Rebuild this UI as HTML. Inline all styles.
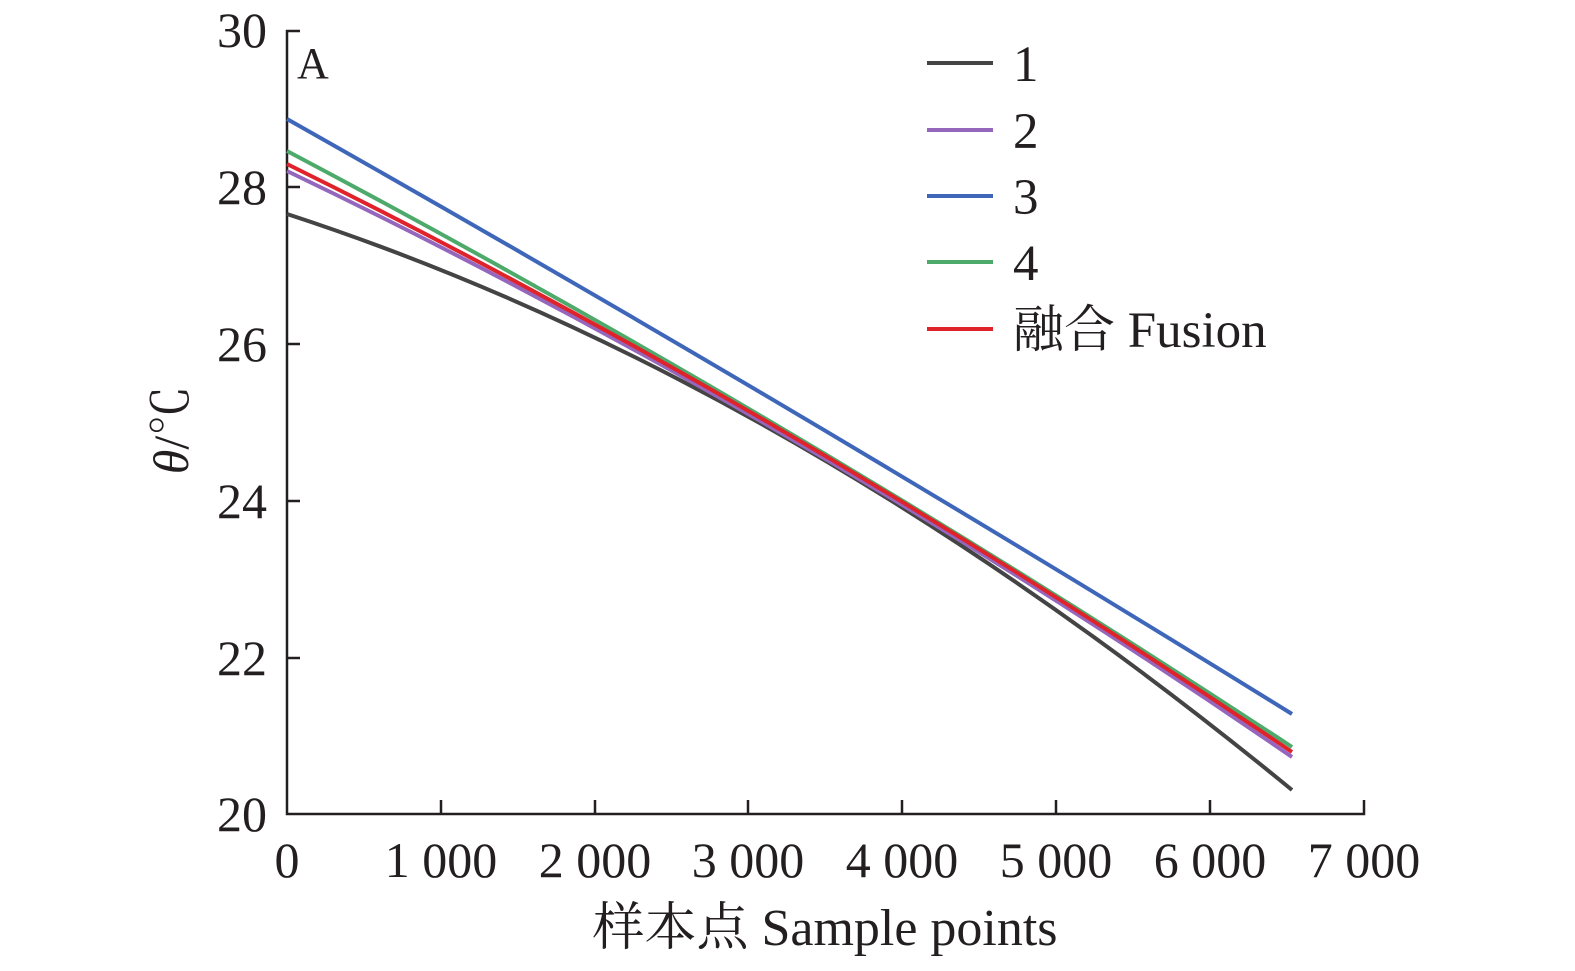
<!DOCTYPE html>
<html><head><meta charset="utf-8"><style>
body{margin:0;background:#fff;}
svg text{font-family:"Liberation Serif","Noto Serif CJK SC",serif;fill:#231f20;}
</style></head><body>
<svg width="1575" height="966" xmlns="http://www.w3.org/2000/svg">
<g stroke="#231f20" stroke-width="2.5" fill="none">
<path d="M300,31 H287 V814 H1364 V800"/>
<path d="M287,187 H300 M287,344 H300 M287,501 H300 M287,658 H300"/>
<path d="M441,814 V800 M595,814 V800 M748,814 V800 M902,814 V800 M1056,814 V800 M1210,814 V800"/>
</g>
<g font-size="50" text-anchor="end">
<text x="267" y="47">30</text><text x="267" y="204">28</text><text x="267" y="361">26</text>
<text x="267" y="518">24</text><text x="267" y="675">22</text><text x="267" y="831">20</text>
</g>
<g font-size="50" text-anchor="middle">
<text x="287" y="877">0</text><text x="441" y="877">1 000</text><text x="595" y="877">2 000</text>
<text x="748" y="877">3 000</text><text x="902" y="877">4 000</text><text x="1056" y="877">5 000</text>
<text x="1210" y="877">6 000</text><text x="1364" y="877">7 000</text>
</g>
<text x="825" y="945" font-size="52" text-anchor="middle">样本点 Sample points</text>
<text transform="translate(188,430) rotate(-90)" font-size="50" text-anchor="middle"><tspan font-style="italic">θ</tspan>/℃</text>
<text x="297" y="78" font-size="44">A</text>
<g fill="none" stroke-width="4">
<path d="M287,214 Q790,378 1292,790" stroke="#444445"/>
<path d="M287,171 Q790,412 1292,757" stroke="#9467bd"/>
<path d="M287,151 Q790,417 1292,747" stroke="#4daa6a"/>
<path d="M287,119 Q790,403 1292,714" stroke="#3f67b9"/>
<path d="M287,164 Q790,412 1292,752" stroke="#e0222a"/>
<path d="M927,63 H993" stroke="#444445"/>
<path d="M927,130 H993" stroke="#9467bd"/>
<path d="M927,196 H993" stroke="#3f67b9"/>
<path d="M927,262 H993" stroke="#4daa6a"/>
<path d="M927,329 H993" stroke="#e0222a"/>
</g>
<g font-size="51">
<text x="1013" y="81">1</text><text x="1013" y="148">2</text><text x="1013" y="214">3</text>
<text x="1013" y="280">4</text><text x="1013" y="347">融合 Fusion</text>
</g>
</svg>
</body></html>
